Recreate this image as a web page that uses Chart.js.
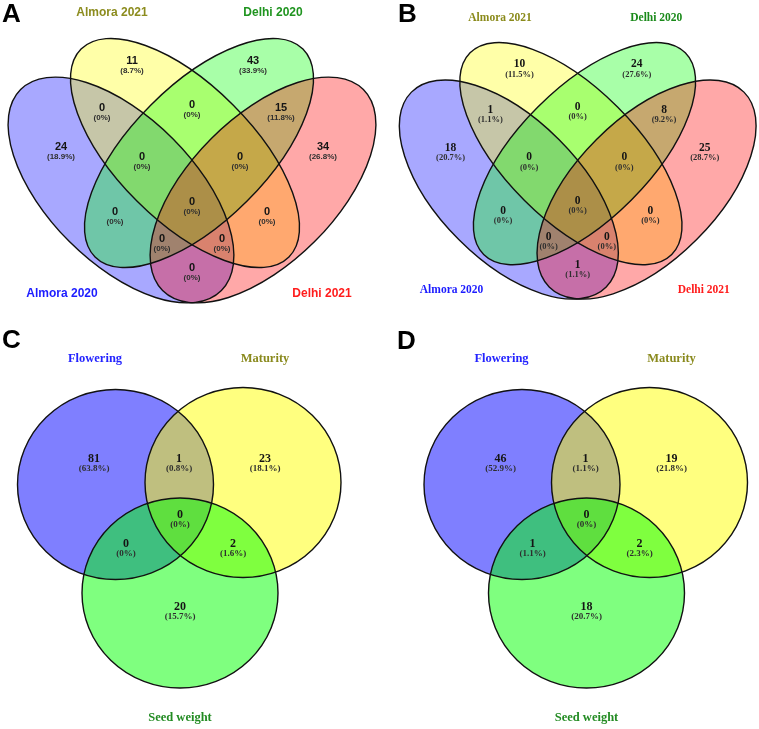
<!DOCTYPE html>
<html>
<head>
<meta charset="utf-8">
<script src="https://cdn.jsdelivr.net/npm/chart.js@4.4.1/dist/chart.umd.min.js"></script>
<style>
  body { margin: 0; background: #fff; }
  .panel { position: absolute; }
</style>
</head>
<body>
<div class="panel" style="left:0;top:0;width:380px;height:310px"><canvas id="chartA"></canvas></div>
<div class="panel" style="left:380px;top:0;width:379px;height:310px"><canvas id="chartB"></canvas></div>
<div class="panel" style="left:0;top:310px;width:380px;height:419px"><canvas id="chartC"></canvas></div>
<div class="panel" style="left:380px;top:310px;width:379px;height:419px"><canvas id="chartD"></canvas></div>
<script>
// four-set diagrams (A, B)
const setNames4 = ['Almora 2020', 'Almora 2021', 'Delhi 2020', 'Delhi 2021'];
// regions: 1 only, 2 only, 3 only, 4 only, 12, 23, 34, 123, 234, 1234, 13, 24, 134, 124, 14
const countsA = [24, 11, 43, 34, 0, 0, 15, 0, 0, 0, 0, 0, 0, 0, 0];
const pctA = ['18.9%', '8.7%', '33.9%', '26.8%', '0%', '0%', '11.8%', '0%', '0%', '0%', '0%', '0%', '0%', '0%', '0%'];
const countsB = [18, 10, 24, 25, 1, 0, 8, 0, 0, 0, 0, 0, 0, 0, 1];
const pctB = ['20.7%', '11.5%', '27.6%', '28.7%', '1.1%', '0%', '9.2%', '0%', '0%', '0%', '0%', '0%', '0%', '0%', '1.1%'];

// three-set diagrams (C, D)
const setNames3 = ['Flowering', 'Maturity', 'Seed weight'];
// regions: 1 only, 12, 2 only, 123, 13, 23, 3 only
const countsC = [81, 1, 23, 0, 0, 2, 20];
const pctC = ['63.8%', '0.8%', '18.1%', '0%', '0%', '1.6%', '15.7%'];
const countsD = [46, 1, 19, 0, 1, 2, 18];
const pctD = ['52.9%', '1.1%', '21.8%', '0%', '1.1%', '2.3%', '20.7%'];

// layout (panel units)
const ellipses4 = [
  { cx: 121, cy: 190, rx: 142, ry: 73, rot: 45, color: 'rgba(0,0,255,0.34)' },
  { cx: 185, cy: 153, rx: 147, ry: 68, rot: 45, color: 'rgba(255,255,0,0.34)' },
  { cx: 199, cy: 153, rx: 147, ry: 68, rot: -45, color: 'rgba(0,255,0,0.34)' },
  { cx: 263, cy: 190, rx: 142, ry: 73, rot: -45, color: 'rgba(255,0,0,0.34)' },
];
const regionPos4 = [[61, 147], [132, 61], [253, 61], [323, 147], [102, 108], [192, 105], [281, 108],
  [142, 157], [240, 157], [192, 202], [115, 212], [267, 212], [162, 239], [222, 239], [192, 268]];
const titlePos4 = [[62, 294], [112, 13], [273, 13], [322, 294]];
const titleColors4 = ['#1c1cff', '#8c8c1e', '#1f941f', '#ff1c1c'];

const circles3 = [
  { cx: 115.5, cy: 174.5, rx: 98, ry: 95, rot: 0, color: 'rgba(0,0,255,0.5)' },
  { cx: 243, cy: 172.5, rx: 98, ry: 95, rot: 0, color: 'rgba(255,255,0,0.5)' },
  { cx: 180, cy: 283, rx: 98, ry: 95, rot: 0, color: 'rgba(0,255,0,0.5)' },
];
const regionPos3 = [[94, 149], [179, 149], [265, 149], [180, 205], [126, 234], [233, 234], [180, 297]];
const titlePos3 = [[95, 49], [265, 49], [180, 408]];
const titleColors3 = ['#2424ff', '#8a8a1e', '#228b22'];

const sans = '"Liberation Sans", Arial, sans-serif';
const serif = '"Liberation Serif", "Times New Roman", serif';

const vennPlugin = cfg => ({
  id: 'venn',
  beforeDatasetsDraw(chart) {
    const { ctx, scales: { x, y } } = chart;
    const shapes = cfg.shapes.map(s => ({
      x: x.getPixelForValue(s.cx),
      y: y.getPixelForValue(s.cy),
      rx: Math.abs(x.getPixelForValue(s.cx + s.rx) - x.getPixelForValue(s.cx)),
      ry: Math.abs(y.getPixelForValue(s.cy + s.ry) - y.getPixelForValue(s.cy)),
      rot: s.rot * Math.PI / 180,
      color: s.color
    }));
    if (cfg.uniform) shapes.forEach((s, i) => { s.ry = s.rx * cfg.shapes[i].ry / cfg.shapes[i].rx; });
    ctx.save();
    for (const s of shapes) {
      ctx.beginPath();
      ctx.ellipse(s.x, s.y, s.rx, s.ry, s.rot, 0, 2 * Math.PI);
      ctx.fillStyle = s.color;
      ctx.fill();
    }
    ctx.strokeStyle = '#111';
    ctx.lineWidth = 1.4;
    for (const s of shapes) {
      ctx.beginPath();
      ctx.ellipse(s.x, s.y, s.rx, s.ry, s.rot, 0, 2 * Math.PI);
      ctx.stroke();
    }
    ctx.restore();
  },
  afterDatasetsDraw(chart) {
    const ctx = chart.ctx;
    ctx.save();
    ctx.textAlign = 'center';
    ctx.textBaseline = 'middle';
    chart.data.datasets.forEach((ds, i) => {
      chart.getDatasetMeta(i).data.forEach((pt, j) => {
        if (ds.kind === 'region') {
          ctx.font = cfg.numFont;
          ctx.fillStyle = '#151515';
          ctx.fillText(String(ds.counts[j]), pt.x, pt.y);
          ctx.font = cfg.pctFont;
          ctx.fillStyle = '#2e2e2e';
          ctx.fillText('(' + ds.pcts[j] + ')', pt.x, pt.y + cfg.pctGap);
        } else {
          ctx.font = cfg.titleFont;
          ctx.fillStyle = ds.colors[j];
          ctx.fillText(ds.names[j], pt.x, pt.y);
        }
      });
    });
    ctx.font = 'bold 26px ' + sans;
    ctx.fillStyle = '#000';
    ctx.textAlign = 'left';
    ctx.textBaseline = 'alphabetic';
    ctx.fillText(cfg.letter, cfg.letterAt[0], cfg.letterAt[1]);
    ctx.restore();
  }
});

const makeChart = (id, cfg) => {
  const toPts = arr => arr.map(([x, y]) => ({ x, y }));
  return new Chart(document.getElementById(id), {
    type: 'scatter',
    data: {
      datasets: [{
        kind: 'region',
        data: toPts(cfg.regionPos),
        counts: cfg.counts,
        pcts: cfg.pcts,
        pointRadius: 0,
        pointHoverRadius: 0,
      }, {
        kind: 'title',
        data: toPts(cfg.titlePos),
        names: cfg.names,
        colors: cfg.colors,
        pointRadius: 0,
        pointHoverRadius: 0,
      }]
    },
    options: {
      responsive: true,
      maintainAspectRatio: false,
      animation: false,
      events: [],
      layout: { padding: 0 },
      plugins: { legend: { display: false }, tooltip: { enabled: false } },
      scales: {
        x: { type: 'linear', min: cfg.xRange[0], max: cfg.xRange[1], display: false },
        y: { type: 'linear', min: cfg.yRange[0], max: cfg.yRange[1], reverse: true, display: false }
      }
    },
    plugins: [vennPlugin(cfg)]
  });
};

makeChart('chartA', {
  letter: 'A', letterAt: [2, 22],
  xRange: [0, 380], yRange: [0, 310], uniform: true,
  shapes: ellipses4, regionPos: regionPos4, titlePos: titlePos4,
  counts: countsA, pcts: pctA, names: setNames4, colors: titleColors4,
  titleFont: 'bold 12px ' + sans, numFont: 'bold 11px ' + sans, pctFont: 'bold 8px ' + sans, pctGap: 10
});

makeChart('chartB', {
  letter: 'B', letterAt: [18, 22],
  xRange: [-11.8, 378.9], yRange: [-5.4, 314.2], uniform: true,
  shapes: ellipses4, regionPos: regionPos4, titlePos: titlePos4,
  counts: countsB, pcts: pctB, names: setNames4, colors: ['#1c1cff', '#8a8a1a', '#1a8a1a', '#ff1c1c'],
  titleFont: 'bold 11.5px ' + serif, numFont: 'bold 11.5px ' + serif, pctFont: 'bold 8.5px ' + serif, pctGap: 10
});

makeChart('chartC', {
  letter: 'C', letterAt: [2, 38],
  xRange: [0, 380], yRange: [0, 419],
  shapes: circles3, regionPos: regionPos3, titlePos: titlePos3,
  counts: countsC, pcts: pctC, names: setNames3, colors: titleColors3,
  titleFont: 'bold 12.5px ' + serif, numFont: 'bold 12px ' + serif, pctFont: 'bold 9px ' + serif, pctGap: 10
});

makeChart('chartD', {
  letter: 'D', letterAt: [17, 39],
  xRange: [-26.5, 352.5], yRange: [0, 419],
  shapes: circles3, regionPos: regionPos3, titlePos: titlePos3,
  counts: countsD, pcts: pctD, names: setNames3, colors: titleColors3,
  titleFont: 'bold 12.5px ' + serif, numFont: 'bold 12px ' + serif, pctFont: 'bold 9px ' + serif, pctGap: 10
});
</script>
</body>
</html>
